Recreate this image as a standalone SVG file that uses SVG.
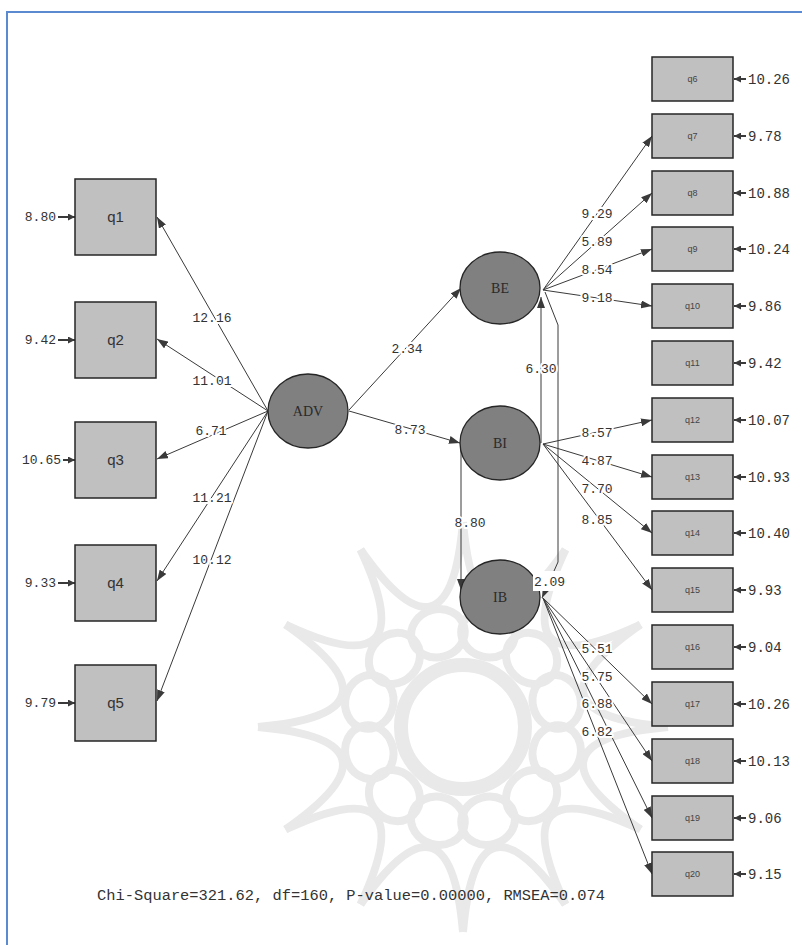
<svg xmlns="http://www.w3.org/2000/svg" width="802" height="945" viewBox="0 0 802 945">
<style>
.box{fill:#c0c0c0;stroke:#262626;stroke-width:1.5}
.lat{fill:#808080;stroke:#262626;stroke-width:1.3}
.edge{stroke:#3a3a3a;stroke-width:1;fill:none}
.err{stroke:#3a3a3a;stroke-width:2;fill:none}
.num{font-family:"Liberation Mono","DejaVu Sans Mono",monospace;font-size:13px;fill:#333}
.lbl{paint-order:stroke;stroke:#fff;stroke-width:4px;stroke-linejoin:round}
.rerr{font-family:"Liberation Mono","DejaVu Sans Mono",monospace;font-size:14px;fill:#333}
.lq{font-family:"Liberation Sans",Arial,sans-serif;font-size:15px;fill:#333;text-anchor:middle}
.rq{font-family:"Liberation Sans",Arial,sans-serif;font-size:9px;fill:#444;text-anchor:middle}
.lv{font-family:"Liberation Serif","Times New Roman",serif;font-size:14px;fill:#2a2a2a;text-anchor:middle}
.wm{fill:none;stroke:#e9e9e9;stroke-width:8}
</style>
<defs>
<marker id="ah" markerUnits="userSpaceOnUse" markerWidth="11" markerHeight="8" refX="11" refY="4" orient="auto"><path d="M0,0 L11,4 L0,8 z" fill="#3a3a3a"/></marker>
<marker id="eh" markerUnits="userSpaceOnUse" markerWidth="7" markerHeight="7" refX="7" refY="3.5" orient="auto"><path d="M0,0 L7,3.5 L0,7 z" fill="#3a3a3a"/></marker>
<path id="seg" d="M-53.06,-198 Q0,-52 53.06,-198"/>
<ellipse id="loop" cx="0" cy="-97" rx="27" ry="24"/>
</defs>
<rect width="802" height="945" fill="#fff"/>
<g id="watermark" class="wm" transform="translate(463,727)">
<use href="#seg" transform="rotate(15)"/><use href="#seg" transform="rotate(45)"/><use href="#seg" transform="rotate(75)"/><use href="#seg" transform="rotate(105)"/><use href="#seg" transform="rotate(135)"/><use href="#seg" transform="rotate(165)"/><use href="#seg" transform="rotate(195)"/><use href="#seg" transform="rotate(225)"/><use href="#seg" transform="rotate(255)"/><use href="#seg" transform="rotate(285)"/><use href="#seg" transform="rotate(315)"/><use href="#seg" transform="rotate(345)"/>
<use href="#loop" transform="rotate(15)"/><use href="#loop" transform="rotate(45)"/><use href="#loop" transform="rotate(75)"/><use href="#loop" transform="rotate(105)"/><use href="#loop" transform="rotate(135)"/><use href="#loop" transform="rotate(165)"/><use href="#loop" transform="rotate(195)"/><use href="#loop" transform="rotate(225)"/><use href="#loop" transform="rotate(255)"/><use href="#loop" transform="rotate(285)"/><use href="#loop" transform="rotate(315)"/><use href="#loop" transform="rotate(345)"/>
<circle r="62" stroke-width="14"/>
</g>
<g id="frame" stroke="#5b8ad0" stroke-width="2"><line x1="6" y1="12" x2="802" y2="12"/><line x1="7" y1="11" x2="7" y2="945"/></g>
<g id="connectors">
<g class="edge" marker-end="url(#ah)">
<line x1="268" y1="411" x2="157" y2="217"/>
<line x1="268" y1="411" x2="157" y2="339"/>
<line x1="268" y1="411" x2="157" y2="459"/>
<line x1="268" y1="411" x2="157" y2="581"/>
<line x1="268" y1="411" x2="157" y2="701"/>
<line x1="349" y1="410" x2="461" y2="288"/>
<line x1="349" y1="411" x2="460" y2="443"/>
<line x1="541" y1="443" x2="541" y2="297"/>
<line x1="461" y1="443" x2="461" y2="590"/>
<polyline points="545,292 558,325 558,562 542,598"/>
<line x1="543" y1="290" x2="652" y2="136"/>
<line x1="543" y1="290" x2="652" y2="193"/>
<line x1="543" y1="290" x2="652" y2="249"/>
<line x1="543" y1="290" x2="652" y2="306"/>
<line x1="543" y1="444" x2="652" y2="420"/>
<line x1="543" y1="444" x2="652" y2="477"/>
<line x1="543" y1="444" x2="652" y2="533"/>
<line x1="543" y1="444" x2="652" y2="590"/>
<line x1="543" y1="598" x2="652" y2="704"/>
<line x1="543" y1="598" x2="652" y2="761"/>
<line x1="543" y1="598" x2="652" y2="818"/>
<line x1="543" y1="598" x2="652" y2="874"/>
</g>
<g class="err" marker-end="url(#eh)">
<line x1="58" y1="217" x2="75" y2="217"/>
<line x1="58" y1="340" x2="75" y2="340"/>
<line x1="63" y1="460" x2="75" y2="460"/>
<line x1="58" y1="583" x2="75" y2="583"/>
<line x1="58" y1="703" x2="75" y2="703"/>
<line x1="746" y1="79" x2="734" y2="79"/>
<line x1="746" y1="136" x2="734" y2="136"/>
<line x1="746" y1="193" x2="734" y2="193"/>
<line x1="746" y1="249" x2="734" y2="249"/>
<line x1="746" y1="306" x2="734" y2="306"/>
<line x1="746" y1="363" x2="734" y2="363"/>
<line x1="746" y1="420" x2="734" y2="420"/>
<line x1="746" y1="477" x2="734" y2="477"/>
<line x1="746" y1="533" x2="734" y2="533"/>
<line x1="746" y1="590" x2="734" y2="590"/>
<line x1="746" y1="647" x2="734" y2="647"/>
<line x1="746" y1="704" x2="734" y2="704"/>
<line x1="746" y1="761" x2="734" y2="761"/>
<line x1="746" y1="818" x2="734" y2="818"/>
<line x1="746" y1="874" x2="734" y2="874"/>
</g>
<g class="num lbl" text-anchor="middle">
<text x="212" y="322">12.16</text>
<text x="212" y="385">11.01</text>
<text x="211" y="435">6.71</text>
<text x="212" y="502">11.21</text>
<text x="212" y="564">10.12</text>
<text x="407" y="353">2.34</text>
<text x="410" y="434">8.73</text>
<text x="541" y="373">6.30</text>
<text x="470" y="527">8.80</text>
<text x="597" y="218">9.29</text>
<text x="597" y="246">5.89</text>
<text x="597" y="274">8.54</text>
<text x="597" y="302">9.18</text>
<text x="597" y="437">8.57</text>
<text x="597" y="465">4.87</text>
<text x="597" y="493">7.70</text>
<text x="597" y="524">8.85</text>
<text x="597" y="653">5.51</text>
<text x="597" y="681">5.75</text>
<text x="597" y="708">6.88</text>
<text x="597" y="736">6.82</text>
</g>
</g>
<g id="ADV"><ellipse class="lat" cx="308" cy="411" rx="40" ry="37"/><text class="lv" x="308" y="416">ADV</text></g>
<g id="BE"><ellipse class="lat" cx="500" cy="288" rx="40" ry="36"/><text class="lv" x="500" y="293">BE</text></g>
<g id="BI"><ellipse class="lat" cx="500" cy="443" rx="40" ry="37"/><text class="lv" x="500" y="448">BI</text></g>
<g id="IB"><ellipse class="lat" cx="500" cy="597" rx="40" ry="37"/><text class="lv" x="500" y="602">IB</text></g>
<g id="label-209"><rect x="533" y="571" width="33" height="20" fill="#fff"/><text class="num" x="549.5" y="586" text-anchor="middle">2.09</text></g>
<g id="q1"><rect class="box" x="75" y="179" width="81" height="76"/><text class="lq" x="115.5" y="222">q1</text><text class="num" x="56" y="221" text-anchor="end">8.80</text></g>
<g id="q2"><rect class="box" x="75" y="302" width="81" height="76"/><text class="lq" x="115.5" y="345">q2</text><text class="num" x="56" y="344" text-anchor="end">9.42</text></g>
<g id="q3"><rect class="box" x="75" y="422" width="81" height="76"/><text class="lq" x="115.5" y="465">q3</text><text class="num" x="61" y="464" text-anchor="end">10.65</text></g>
<g id="q4"><rect class="box" x="75" y="545" width="81" height="76"/><text class="lq" x="115.5" y="588">q4</text><text class="num" x="56" y="587" text-anchor="end">9.33</text></g>
<g id="q5"><rect class="box" x="75" y="665" width="81" height="76"/><text class="lq" x="115.5" y="708">q5</text><text class="num" x="56" y="707" text-anchor="end">9.79</text></g>
<g id="q6"><rect class="box" x="652" y="57" width="81" height="44"/><text class="rq" x="692.5" y="82">q6</text><text class="rerr" x="748" y="84">10.26</text></g>
<g id="q7"><rect class="box" x="652" y="114" width="81" height="44"/><text class="rq" x="692.5" y="139">q7</text><text class="rerr" x="748" y="141">9.78</text></g>
<g id="q8"><rect class="box" x="652" y="171" width="81" height="44"/><text class="rq" x="692.5" y="196">q8</text><text class="rerr" x="748" y="198">10.88</text></g>
<g id="q9"><rect class="box" x="652" y="227" width="81" height="44"/><text class="rq" x="692.5" y="252">q9</text><text class="rerr" x="748" y="254">10.24</text></g>
<g id="q10"><rect class="box" x="652" y="284" width="81" height="44"/><text class="rq" x="692.5" y="309">q10</text><text class="rerr" x="748" y="311">9.86</text></g>
<g id="q11"><rect class="box" x="652" y="341" width="81" height="44"/><text class="rq" x="692.5" y="366">q11</text><text class="rerr" x="748" y="368">9.42</text></g>
<g id="q12"><rect class="box" x="652" y="398" width="81" height="44"/><text class="rq" x="692.5" y="423">q12</text><text class="rerr" x="748" y="425">10.07</text></g>
<g id="q13"><rect class="box" x="652" y="455" width="81" height="44"/><text class="rq" x="692.5" y="480">q13</text><text class="rerr" x="748" y="482">10.93</text></g>
<g id="q14"><rect class="box" x="652" y="511" width="81" height="44"/><text class="rq" x="692.5" y="536">q14</text><text class="rerr" x="748" y="538">10.40</text></g>
<g id="q15"><rect class="box" x="652" y="568" width="81" height="44"/><text class="rq" x="692.5" y="593">q15</text><text class="rerr" x="748" y="595">9.93</text></g>
<g id="q16"><rect class="box" x="652" y="625" width="81" height="44"/><text class="rq" x="692.5" y="650">q16</text><text class="rerr" x="748" y="652">9.04</text></g>
<g id="q17"><rect class="box" x="652" y="682" width="81" height="44"/><text class="rq" x="692.5" y="707">q17</text><text class="rerr" x="748" y="709">10.26</text></g>
<g id="q18"><rect class="box" x="652" y="739" width="81" height="44"/><text class="rq" x="692.5" y="764">q18</text><text class="rerr" x="748" y="766">10.13</text></g>
<g id="q19"><rect class="box" x="652" y="796" width="81" height="44"/><text class="rq" x="692.5" y="821">q19</text><text class="rerr" x="748" y="823">9.06</text></g>
<g id="q20"><rect class="box" x="652" y="852" width="81" height="44"/><text class="rq" x="692.5" y="877">q20</text><text class="rerr" x="748" y="879">9.15</text></g>
<g id="fit"><text x="97" y="900" font-family="Liberation Mono, 'DejaVu Sans Mono', monospace" font-size="15.4" fill="#333">Chi-Square=321.62, df=160, P-value=0.00000, RMSEA=0.074</text></g>
</svg>
